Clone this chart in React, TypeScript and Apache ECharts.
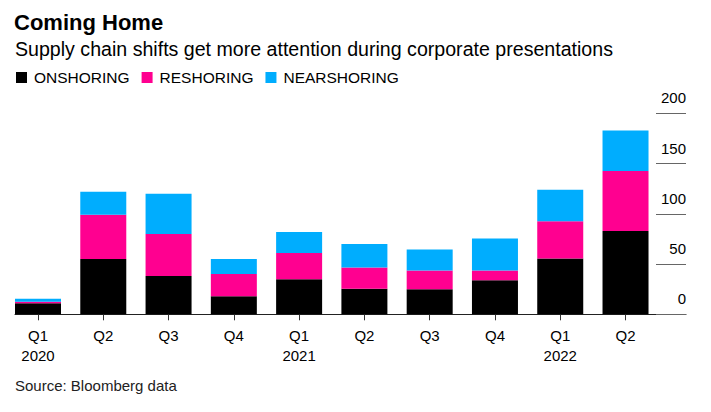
import React, { useEffect, useRef } from "react";
import * as echarts from "echarts";

const quarters = ["Q1", "Q2", "Q3", "Q4", "Q1", "Q2", "Q3", "Q4", "Q1", "Q2"];
const years = ["2020", "", "", "", "2021", "", "", "", "2022", ""];
const categoryKeys = [
  "Q1 2020", "Q2 2020", "Q3 2020", "Q4 2020",
  "Q1 2021", "Q2 2021", "Q3 2021", "Q4 2021",
  "Q1 2022", "Q2 2022",
];
const onshoring = [11, 55, 38, 18, 35, 25.5, 25, 34, 55.5, 83];
const reshoring = [1.5, 44, 42, 22, 26, 21, 18.5, 9.5, 37, 59.5];
const nearshoring = [3, 23, 40, 15, 21, 23.5, 21, 32, 31.5, 40.5];
const yMax = 200;
const yInterval = 50;

const FONT = '"Liberation Sans", Arial, sans-serif';
const BLACK = "#000000";
const PINK = "#ff0090";
const BLUE = "#00adfe";

export default function App() {
  const ref = useRef<HTMLDivElement>(null);

  useEffect(() => {
    if (!ref.current) return;
    const chart = echarts.init(ref.current, undefined, { renderer: "svg" });
    const gridTop = 113.3;
    const gridHeight = 201;
    const band = 65.28;
    const gridLeft = 38 - band / 2;

    chart.setOption({
      animation: false,
      backgroundColor: "#ffffff",
      textStyle: { fontFamily: FONT },
      title: [
        {
          text: "Coming Home",
          left: 14,
          top: 11,
          padding: 0,
          textStyle: { fontSize: 22, fontWeight: "bold", color: "#000", fontFamily: FONT, lineHeight: 22 },
        },
        {
          text: "Supply chain shifts get more attention during corporate presentations",
          left: 15,
          top: 38.5,
          padding: 0,
          textStyle: { fontSize: 19.6, fontWeight: "normal", color: "#000", fontFamily: FONT, lineHeight: 20 },
        },
        {
          text: "Source: Bloomberg data",
          left: 15,
          top: 377.5,
          padding: 0,
          textStyle: { fontSize: 15, fontWeight: "normal", color: "#222", fontFamily: FONT, lineHeight: 15 },
        },
      ],
      legend: {
        left: 16,
        top: 69.5,
        padding: 0,
        icon: "rect",
        itemWidth: 11,
        itemHeight: 11,
        itemGap: 12,
        textStyle: { fontSize: 15.5, color: "#000", fontFamily: FONT, padding: [0, 0, 0, 2] },
        data: ["ONSHORING", "RESHORING", "NEARSHORING"],
      },
      grid: [
        { left: gridLeft, width: band * 10, top: gridTop, height: gridHeight },
        { left: 15, right: 25, top: gridTop, height: gridHeight },
        { left: 15, right: 55, top: gridTop, height: gridHeight },
      ],
      xAxis: [
        {
          type: "category",
          gridIndex: 0,
          data: categoryKeys,
          axisLine: { show: false },
          axisTick: { show: true, alignWithLabel: true, length: 6, lineStyle: { color: "#333", width: 1 } },
          axisLabel: {
            margin: 11.5,
            fontSize: 15,
            lineHeight: 20,
            color: "#000",
            fontFamily: FONT,
            formatter: (_v: string, i: number) => quarters[i] + (years[i] ? "\n" + years[i] : ""),
          },
        },
        {
          type: "value",
          gridIndex: 1,
          min: 0,
          max: 1,
          axisLine: { show: true, onZero: false, lineStyle: { color: "#222", width: 1 } },
          axisTick: { show: false },
          axisLabel: { show: false },
          splitLine: { show: false },
        },
        {
          type: "value",
          gridIndex: 2,
          min: 0,
          max: 1,
          show: false,
        },
      ],
      yAxis: [
        { type: "value", gridIndex: 0, min: 0, max: yMax, show: false },
        { type: "value", gridIndex: 1, min: 0, max: yMax, show: false },
        {
          type: "value",
          gridIndex: 2,
          position: "right",
          min: 0,
          max: yMax,
          interval: yInterval,
          axisLine: { show: false, onZero: false },
          axisTick: { show: true, inside: false, length: 30, lineStyle: { color: "#666", width: 1 } },
          axisLabel: {
            inside: false,
            margin: 30,
            align: "right",
            verticalAlign: "bottom",
            fontSize: 15,
            lineHeight: 15,
            padding: [0, 0, 8, 0],
            color: "#000",
            fontFamily: FONT,
          },
          splitLine: { show: false },
        },
      ],
      series: [
        { name: "ONSHORING", type: "bar", stack: "s", xAxisIndex: 0, yAxisIndex: 0, barWidth: 46, itemStyle: { color: BLACK }, data: onshoring },
        { name: "RESHORING", type: "bar", stack: "s", xAxisIndex: 0, yAxisIndex: 0, barWidth: 46, itemStyle: { color: PINK }, data: reshoring },
        { name: "NEARSHORING", type: "bar", stack: "s", xAxisIndex: 0, yAxisIndex: 0, barWidth: 46, itemStyle: { color: BLUE }, data: nearshoring },
      ],
    });
    return () => chart.dispose();
  }, []);

  return <div ref={ref} style={{ width: 711, height: 412, position: "absolute", left: 0, top: 0 }} />;
}
